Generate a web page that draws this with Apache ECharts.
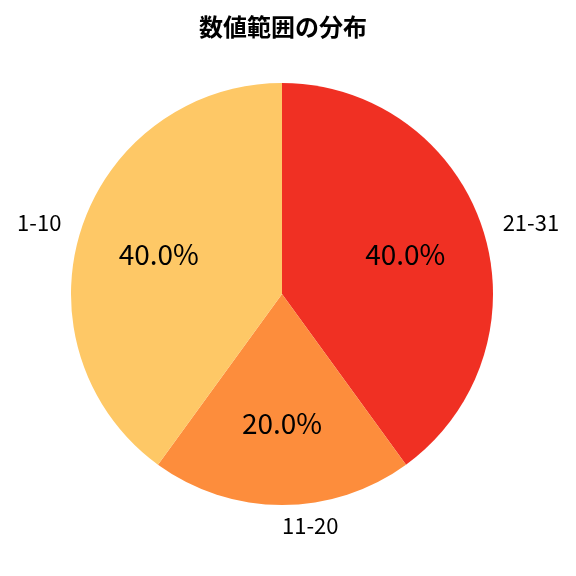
<!DOCTYPE html>
<html>
<head>
<meta charset="utf-8">
<script src="https://cdn.jsdelivr.net/npm/echarts@6/dist/echarts.min.js"></script>
<style>html,body{margin:0;padding:0;background:#fff;}#c{width:576px;height:576px;}</style>
</head>
<body>
<div id="c"></div>
<script>
const categories = ['21-31', '11-20', '1-10'];
const values = [40, 20, 40];
const colors = ['#F03023', '#FD8D3C', '#FEC866'];
const titleText = '数値範囲の分布';

const FONT = '"Noto Sans CJK JP", "Noto Sans", sans-serif';
const data = categories.map((c, i) => ({ name: c, value: values[i], itemStyle: { color: colors[i] } }));
const R = 211;

const chart = echarts.init(document.getElementById('c'));
chart.setOption({
  animation: false,
  backgroundColor: '#fff',
  title: {
    text: titleText,
    left: 194, top: 10,
    textStyle: { fontFamily: FONT, fontSize: 24, fontWeight: 'bold', color: '#000' }
  },
  series: [
    {
      type: 'pie',
      center: [282, 294],
      radius: R,
      startAngle: 90,
      clockwise: true,
      avoidLabelOverlap: false,
      silent: true,
      data: data,
      label: {
        show: true, position: 'outside',
        formatter: '{b}',
        fontFamily: FONT, fontSize: 22, color: '#000',
        distanceToLabelLine: 0
      },
      labelLine: { show: false, length: 21, length2: 0 }
    },
    {
      type: 'pie',
      center: [282, 294],
      radius: R * 1.2,
      startAngle: 90,
      clockwise: true,
      avoidLabelOverlap: false,
      silent: true,
      data: categories.map((c, i) => ({ name: c, value: values[i] })),
      itemStyle: { color: 'rgba(0,0,0,0)' },
      label: {
        show: true, position: 'inside',
        formatter: p => p.percent.toFixed(1) + '%',
        fontFamily: FONT, fontSize: 28, color: '#000'
      },
      labelLine: { show: false }
    }
  ]
});
</script>
</body>
</html>
